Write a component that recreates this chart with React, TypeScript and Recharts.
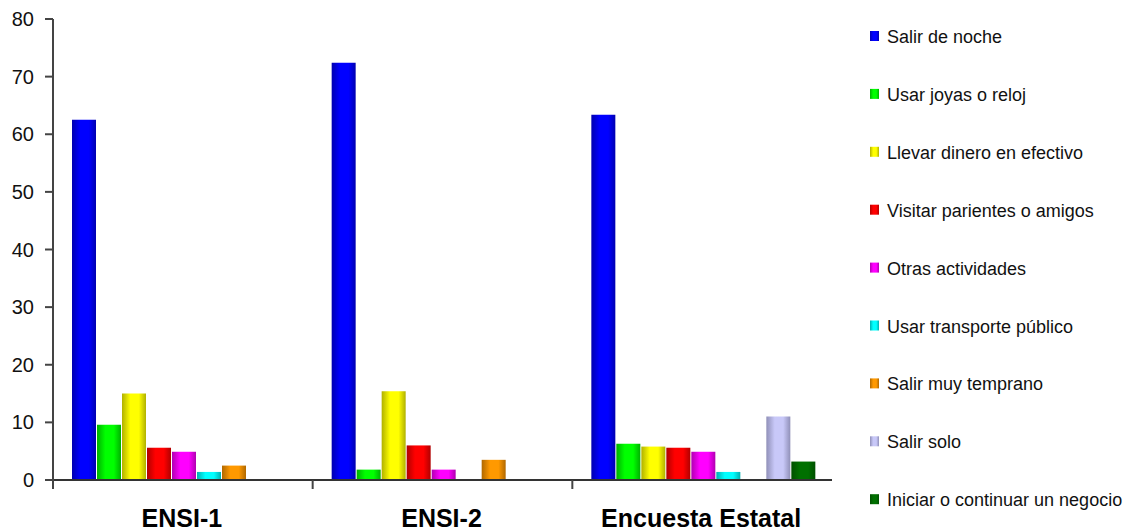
import React from 'react';
import {BarChart, Bar, XAxis, YAxis} from 'recharts';

const categories = ['ENSI-1', 'ENSI-2', 'Encuesta Estatal'];

const seriesNames = [
    'Salir de noche',
    'Usar joyas o reloj',
    'Llevar dinero en efectivo',
    'Visitar parientes o amigos',
    'Otras actividades',
    'Usar transporte público',
    'Salir muy temprano',
    'Salir solo',
    'Iniciar o continuar un negocio',
];

const salirNoche = [62.5, 72.4, 63.4];
const usarJoyas = [9.6, 1.8, 6.3];
const llevarDinero = [15.0, 15.4, 5.8];
const visitarParientes = [5.6, 6.0, 5.6];
const otrasActividades = [4.9, 1.8, 4.9];
const transportePublico = [1.4, 0, 1.4];
const salirTemprano = [2.5, 3.5, 0];
const salirSolo = [0, 0, 11.0];
const iniciarNegocio = [0, 0, 3.2];

const seriesValues = [
    salirNoche, usarJoyas, llevarDinero, visitarParientes, otrasActividades,
    transportePublico, salirTemprano, salirSolo, iniciarNegocio,
];

const yTicks = [0, 10, 20, 30, 40, 50, 60, 70, 80];

const brightColors = ['#0000ff', '#00ff00', '#ffff00', '#ff0000', '#ff00ff', '#00ffff', '#ff9900', '#c8c8f8', '#007000'];
const darkColors = ['#0000b0', '#00b000', '#b0b000', '#b00000', '#b000b0', '#00b0b0', '#b06800', '#9090b8', '#005000'];

const data = categories.map((name, i) => {
    const row: Record<string, string | number> = {name};
    seriesValues.forEach((vals, s) => {
        row['s' + s] = vals[i];
    });
    return row;
});

const FONT = '"Liberation Sans", Arial, sans-serif';
const W = 1133;
const H = 531;
const LEFT = 53;
const RIGHT = 301;
const PLOT_W = W - LEFT - RIGHT;

const Gradients = () => (
    <defs>
        {brightColors.map((c, i) => (
            <linearGradient key={i} id={'g' + i} x1="0" y1="0" x2="1" y2="0">
                <stop offset="0%" stopColor={darkColors[i]}/>
                <stop offset="35%" stopColor={c}/>
                <stop offset="70%" stopColor={c}/>
                <stop offset="100%" stopColor={darkColors[i]}/>
            </linearGradient>
        ))}
    </defs>
);

const XTick = (props: any) => {
    const {x, y, payload} = props;
    const bw = PLOT_W / categories.length;
    return (
        <g>
            <line x1={x - bw / 2} x2={x - bw / 2} y1={y} y2={y + 9} stroke="#444" strokeWidth={2}/>
            <text x={x - 1} y={y + 47} textAnchor="middle" fontWeight="bold" fontSize={25}
                  fontFamily={FONT} fill="#000">{payload.value}</text>
        </g>
    );
};

const Legend = () => (
    <svg width={W} height={H} style={{position: 'absolute', left: 0, top: 0}}>
        <Gradients/>
        {seriesNames.map((name, i) => {
            const cy = 36 + i * 57.9;
            return (
                <g key={name}>
                    <rect x={870} y={cy - 5} width={9} height={10} fill={`url(#g${i})`}/>
                    <text x={887} y={cy + 7} fontSize={18} fontFamily={FONT} fill="#111">{name}</text>
                </g>
            );
        })}
    </svg>
);

const App = () => {
    return (
        <div style={{position: 'absolute', left: 0, top: 0, width: W, height: H, background: '#fff'}}>
            <Legend/>
            <div style={{position: 'absolute', left: 0, top: 0}}>
                <BarChart
                    width={W}
                    height={H}
                    data={data}
                    margin={{top: 19, right: RIGHT, bottom: 0, left: 0}}
                    barCategoryGap={19}
                    barGap={1}
                >
                    <Gradients/>
                    <XAxis
                        dataKey="name"
                        height={51}
                        tickSize={0}
                        tickMargin={0}
                        tickLine={false}
                        axisLine={{stroke: '#333', strokeWidth: 2}}
                        tick={<XTick/>}
                        interval={0}
                    />
                    <YAxis
                        width={LEFT}
                        domain={[0, 80]}
                        ticks={yTicks}
                        interval={0}
                        tickSize={8}
                        tickMargin={11}
                        axisLine={{stroke: '#444', strokeWidth: 2}}
                        tickLine={{stroke: '#444', strokeWidth: 2}}
                        tick={{fontSize: 20, fontFamily: FONT, fill: '#111'}}
                    />
                    {seriesNames.map((name, i) => (
                        <Bar key={name} dataKey={'s' + i} name={name} fill={`url(#g${i})`}
                             isAnimationActive={false}/>
                    ))}
                </BarChart>
            </div>
        </div>
    );
};

export default App;
